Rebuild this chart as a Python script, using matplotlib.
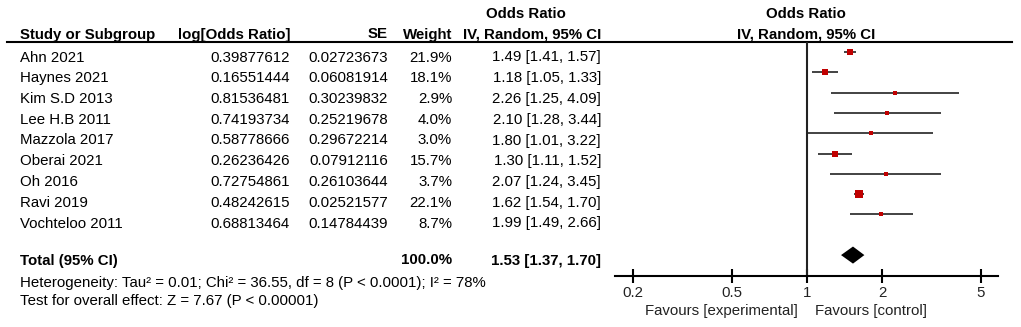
import matplotlib.pyplot as plt

plt.rcParams['font.family'] = ['Liberation Sans', 'DejaVu Sans']

# study data
studies = ['Ahn 2021', 'Haynes 2021', 'Kim S.D 2013', 'Lee H.B 2011', 'Mazzola 2017',
           'Oberai 2021', 'Oh 2016', 'Ravi 2019', 'Vochteloo 2011']
log_or = ['0.39877612', '0.16551444', '0.81536481', '0.74193734', '0.58778666',
          '0.26236426', '0.72754861', '0.48242615', '0.68813464']
se = ['0.02723673', '0.06081914', '0.30239832', '0.25219678', '0.29672214',
      '0.07912116', '0.26103644', '0.02521577', '0.14784439']
weights = [21.9, 18.1, 2.9, 4.0, 3.0, 15.7, 3.7, 22.1, 8.7]
or_vals = [1.49, 1.18, 2.26, 2.10, 1.80, 1.30, 2.07, 1.62, 1.99]
ci_lo = [1.41, 1.05, 1.25, 1.28, 1.01, 1.11, 1.24, 1.54, 1.49]
ci_hi = [1.57, 1.33, 4.09, 3.44, 3.22, 1.52, 3.45, 1.70, 2.66]
total_weight = 100.0
total_or, total_lo, total_hi = 1.53, 1.37, 1.70
total_row = 10

tick_vals = [0.2, 0.5, 1, 2, 5]
tick_labels = ['0.2', '0.5', '1', '2', '5']

W, H = 1021, 327
fig = plt.figure(figsize=(W / 100, H / 100), dpi=100)

# background axes in pixel units, for the table text and header rule
ax_t = fig.add_axes([0, 0, 1, 1])
ax_t.set_xlim(0, W)
ax_t.set_ylim(H, 0)
ax_t.axis('off')

# forest plot axes
x0, x1, ytop, ybot = 615, 998, 42, 276
ax = fig.add_axes([x0 / W, (H - ybot) / H, (x1 - x0) / W, (ybot - ytop) / H])
ax.set_facecolor('none')
ax.set_xscale('log')
ax.set_xlim(0.1694, 5.85)
ax.set_ylim(11.03, -0.49)
for s in ['top', 'left', 'right']:
    ax.spines[s].set_visible(False)
ax.spines['bottom'].set_linewidth(1.5)
ax.set_yticks([])
ax.set_xticks(tick_vals)
ax.set_xticklabels(tick_labels)
ax.minorticks_off()
ax.tick_params(axis='x', direction='inout', length=10, width=1.5, labelsize=10.8,
               labelcolor='#222222', pad=2)
ax.axvline(1, color='#222222', lw=1.5)

rows = list(range(len(studies)))
fs = 10.8
for i in rows:
    ax.plot([ci_lo[i], ci_hi[i]], [i, i], color='#222222', lw=1.2, solid_capstyle='butt')
    ax.plot(or_vals[i], i, marker='s', ls='none', color='#c00000',
            markersize=0.86 * weights[i] ** 0.5 + 1.0, markeredgewidth=0)

ax.fill([total_lo, total_or, total_hi, total_or],
        [total_row, total_row - 0.42, total_row, total_row + 0.42],
        color='black', lw=0)

# table text, placed in pixel rows
va = 'center_baseline'
row_top, row_step = 56, 20.75
for i in rows:
    y = row_top + i * row_step
    ax_t.text(20, y, studies[i], va=va, fontsize=fs)
    ax_t.text(290, y, log_or[i], va=va, ha='right', fontsize=fs)
    ax_t.text(388, y, se[i], va=va, ha='right', fontsize=fs)
    ax_t.text(452, y, f'{weights[i]:.1f}%', va=va, ha='right', fontsize=fs)
    ax_t.text(601, y, f'{or_vals[i]:.2f} [{ci_lo[i]:.2f}, {ci_hi[i]:.2f}]',
              va=va, ha='right', fontsize=fs)

y_tot = 259
ax_t.text(20, y_tot, 'Total (95% CI)', va=va, fontsize=fs, fontweight='bold')
ax_t.text(452, y_tot, f'{total_weight:.1f}%', va=va, ha='right',
          fontsize=fs, fontweight='bold')
ax_t.text(601, y_tot, f'{total_or:.2f} [{total_lo:.2f}, {total_hi:.2f}]',
          va=va, ha='right', fontsize=fs, fontweight='bold')

ax_t.text(20, 281, 'Heterogeneity: Tau² = 0.01; Chi² = 36.55, df = 8 (P < 0.0001); I² = 78%',
          va=va, fontsize=fs)
ax_t.text(20, 300, 'Test for overall effect: Z = 7.67 (P < 0.00001)', va=va, fontsize=fs)

# headers
ax_t.text(20, 33, 'Study or Subgroup', va=va, fontsize=fs, fontweight='bold')
ax_t.text(290, 33, 'log[Odds Ratio]', va=va, ha='right', fontsize=fs, fontweight='bold')
ax_t.text(388, 33, 'SE', va=va, ha='right', fontsize=fs, fontweight='bold')
ax_t.text(452, 33, 'Weight', va=va, ha='right', fontsize=fs, fontweight='bold')
ax_t.text(526, 13, 'Odds Ratio', va=va, ha='center', fontsize=fs, fontweight='bold')
ax_t.text(601, 33, 'IV, Random, 95% CI', va=va, ha='right', fontsize=fs, fontweight='bold')
ax_t.text(806, 13, 'Odds Ratio', va=va, ha='center', fontsize=fs, fontweight='bold')
ax_t.text(806, 33, 'IV, Random, 95% CI', va=va, ha='center', fontsize=fs, fontweight='bold')
ax_t.plot([7, 1012], [42, 42], color='black', lw=1.5)

ax_t.text(798, 310, 'Favours [experimental]', va=va, ha='right', fontsize=fs,
          color='#222222')
ax_t.text(815, 310, 'Favours [control]', va=va, ha='left', fontsize=fs,
          color='#222222')

fig.savefig('out.png', dpi=100)
